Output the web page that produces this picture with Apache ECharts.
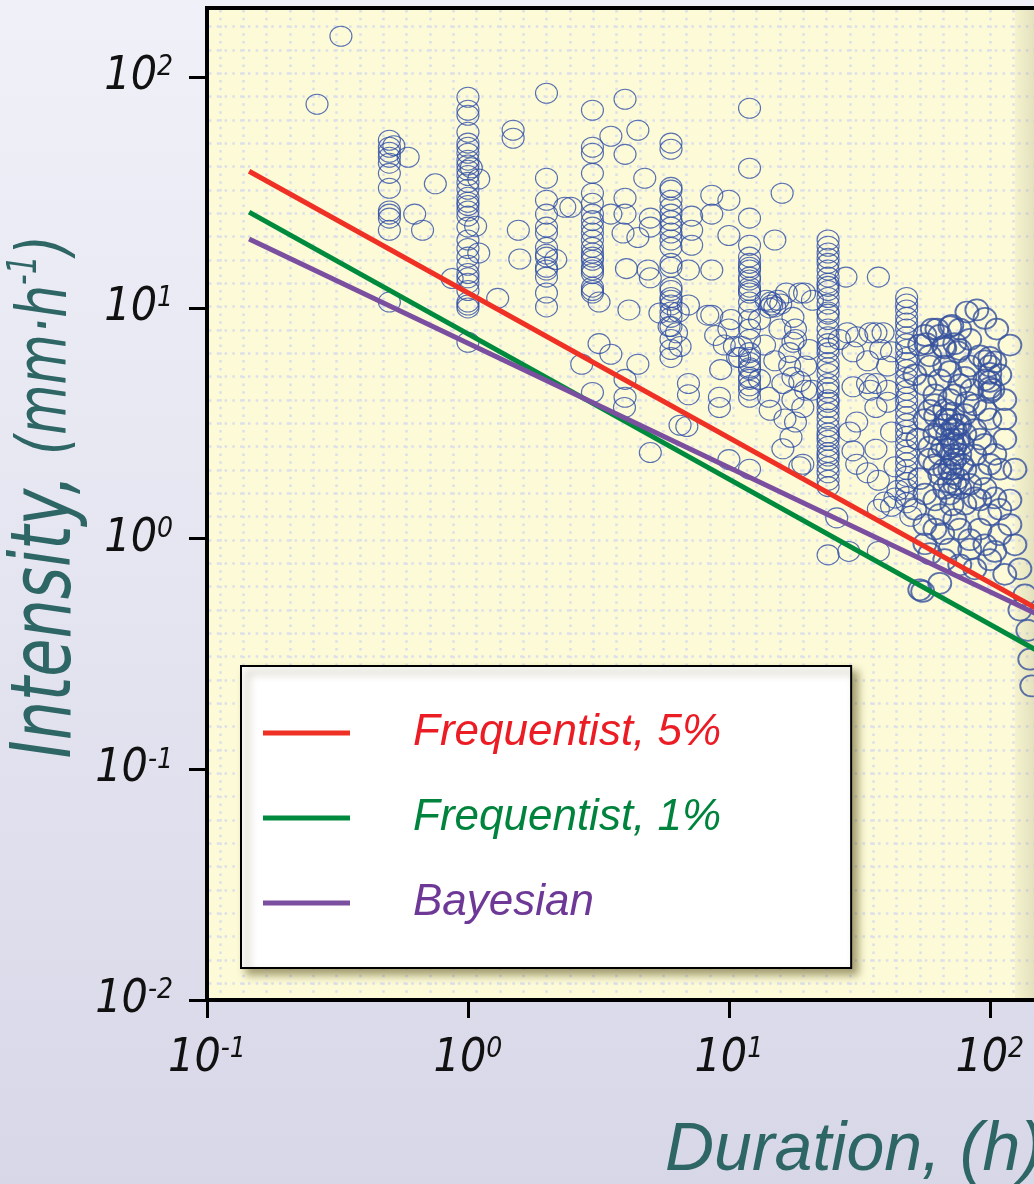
<!DOCTYPE html>
<html><head><meta charset="utf-8">
<script src="https://cdn.jsdelivr.net/npm/echarts@6.0.0/dist/echarts.min.js"></script>
<style>
html,body{margin:0;padding:0;}
#chart{width:1034px;height:1184px;background:linear-gradient(180deg,#f0f0f8 0%,#e5e5f1 50%,#d7d7e8 100%);}
</style></head>
<body><div id="chart"></div>
<script>
// ---- data ----
const xTicks = [0.1, 1, 10, 100];
const yTicks = [0.01, 0.1, 1, 10, 100];
const colDurations = [0.5, 1, 2, 3, 6, 12, 24, 48];
const col05 = [53.3, 49.7, 47.3, 45.0, 42.4, 38.3, 33.0, 26.3, 25.5, 24.5, 21.7, 10.6];
const col1 = [81.9, 71.9, 68.4, 57.7, 51.8, 49.7, 46.8, 43.7, 41.6, 39.5, 37.5, 35.0, 32.7, 30.2, 28.7, 27.8, 26.3, 25.0, 22.4, 19.7, 18.1, 16.6, 15.3, 14.1, 13.5, 12.8, 11.9, 10.6, 10.3, 10.0, 7.1];
const col2 = [85.2, 36.5, 29.3, 25.5, 22.4, 21.1, 18.3, 17.1, 16.6, 15.0, 14.6, 13.6, 11.6, 10.1];
const col3 = [71.9, 49.7, 46.8, 38.3, 31.4, 28.4, 25.5, 23.9, 22.4, 21.1, 19.7, 18.3, 17.3, 16.6, 16.1, 15.0, 14.6, 14.1, 12.3, 11.9, 11.6, 4.3];
const col6 = [51.8, 48.7, 33.3, 32.4, 29.3, 27.3, 25.5, 23.9, 22.4, 21.1, 19.7, 18.3, 15.6, 15.0, 12.3, 11.9, 11.1, 10.8, 10.3, 9.6, 9.1, 8.3, 7.3, 6.6, 6.1];
const col12 = [18.7, 16.6, 15.6, 15.0, 14.6, 13.6, 13.2, 12.3, 11.9, 11.6, 10.6, 9.8, 8.9, 8.1, 7.3, 6.4, 6.1, 5.8, 5.5, 5.4, 5.0, 4.9, 4.6, 4.4, 4.1];
const col24 = [19.7, 18.5, 17.3, 16.4, 15.6, 14.6, 13.6, 12.8, 12.4, 11.9, 11.1, 10.4, 9.6, 9.4, 8.9, 8.1, 7.5, 7.0, 6.7, 6.4, 5.8, 5.5, 5.2, 4.7, 4.5, 4.3, 4.0, 3.9, 3.7, 3.5, 3.3, 3.06, 2.87, 2.77, 2.67, 2.51, 2.36, 2.28, 2.19, 2.05, 1.93, 1.79, 1.68, 0.85];
const col48 = [11.1, 10.4, 9.8, 9.1, 8.6, 8.1, 7.5, 7.0, 6.6, 6.1, 5.8, 5.4, 5.0, 4.7, 4.4, 4.1, 3.86, 3.6, 3.38, 3.15, 2.95, 2.77, 2.6, 2.42, 2.27, 2.13, 1.99, 1.86, 1.75, 1.64, 1.52, 1.43];
const scattered = [
  [0.264, 76.3], [0.326, 150.5],
  [0.59, 45.0], [0.625, 25.5], [0.67, 21.7], [0.75, 34.5], [0.52, 50.5],
  [1.10, 36.2], [1.07, 22.6], [1.10, 17.3], [0.87, 13.4], [1.03, 40.5],
  [1.30, 11.0], [1.49, 58.9], [1.49, 54.4], [1.56, 21.7], [1.58, 16.3],
  [2.17, 16.2], [2.35, 27.3], [2.48, 27.3],
  [3.18, 10.6], [3.18, 7.0], [3.53, 55.5], [3.53, 25.5], [3.53, 6.3], [2.73, 5.7],
  [4.0, 80.3], [4.0, 46.3], [4.0, 29.9], [4.0, 25.5], [3.93, 21.1], [4.05, 14.8], [4.14, 9.8], [4.0, 4.9], [4.0, 4.1], [3.98, 3.7],
  [4.48, 58.9], [4.48, 20.2], [4.48, 5.7], [4.76, 36.5], [4.9, 14.6], [5.0, 13.5], [5.0, 24.5], [5.0, 22.4], [5.0, 2.36], [5.44, 9.5],
  [6.3, 7.8], [6.5, 6.8], [6.4, 9.6], [5.9, 8.3], [7.0, 4.7], [7.0, 4.2], [7.2, 25.0], [7.2, 21.7], [7.2, 18.7], [7.0, 14.6], [7.0, 10.3],
  [8.3, 9.3], [8.6, 30.8], [8.6, 25.5], [8.6, 14.6], [8.6, 9.3], [9.2, 4.1], [9.2, 3.7], [6.5, 3.1], [6.9, 3.06], [10, 2.2], [12, 2.0],
  [10, 29.3], [10, 20.6], [12, 73.4], [12, 40.3], [12, 24.5], [15, 19.7], [16, 31.4],
  [10, 8.1], [10.5, 6.8], [10.8, 6.1], [10.2, 8.9], [11.2, 6.8], [11, 6.1], [14.2, 4.1], [16.1, 4.7], [17.6, 4.0], [17.6, 5.0], [17.1, 6.4], [18, 7.3],
  [16.1, 2.45], [18.7, 2.05], [19.2, 2.1], [17.3, 2.75], [18, 3.2], [19.2, 3.7], [19.7, 4.4],
  [13.9, 10.8], [14.5, 10.6], [14.6, 10.3], [15.0, 10.1], [14.3, 10.0], [15.4, 10.8], [16.6, 11.6], [15.8, 10.4],
  [18.7, 11.6], [20.9, 10.8], [17.6, 9.1], [18, 8.1], [17.6, 7.1], [17.1, 5.6], [19.5, 11.6], [19.7, 5.6], [18.7, 4.8],
  [9.6, 6.9], [9.3, 5.4], [8.9, 7.6], [13.1, 8.9], [13.7, 6.9], [13.1, 4.9], [15, 5.9], [15.7, 8.1], [14.4, 3.6], [16.4, 3.3], [20.3, 6.6], [20.9, 4.4],
  [28.1, 13.6], [37.4, 13.6], [26.5, 7.3], [30.9, 7.5], [34.8, 7.8], [38.2, 6.6], [34, 5.9], [34, 4.7], [34.8, 4.4], [40.6, 4.4], [36.6, 3.7],
  [30.9, 3.2], [29, 2.9], [29.9, 2.4], [30.9, 2.1], [34, 1.93], [37.4, 1.79], [39.5, 1.44], [37.4, 1.34], [25.9, 1.23], [28.8, 0.88], [37.4, 0.88],
  [28.4, 7.8], [39, 7.8], [40.6, 5.6], [29.9, 4.55], [36.6, 4.7], [29.9, 6.45], [36.6, 7.8], [42, 6.45], [40.6, 3.9], [42, 2.9], [36.6, 2.44], [43.3, 2.05],
  [43.3, 1.5], [42, 1.38], [44.5, 1.62], [49.8, 1.25]
];
const blob = [
  [62.7, 8.1], [71.5, 8.4], [81.7, 9.6], [89.2, 9.8], [95.8, 9.0], [106.3, 8.1], [119.4, 6.9],
  [70.3, 8.3], [76.7, 8.1], [60.2, 8.1], [57, 7.0], [66.5, 6.8], [76.7, 6.6],
  [53.9, 6.9], [58.9, 6.2], [67.2, 6.7], [75.4, 6.45], [83.8, 7.3], [95.8, 5.9], [104.5, 5.84], [109.2, 5.13],
  [100, 6.1], [100, 5.6], [100, 5.2], [100, 4.8], [100, 4.5], [100, 4.3],
  [51.6, 5.13], [56.4, 4.64], [64.3, 4.88], [70.3, 5.29], [76.7, 4.64], [85.3, 4.42], [95.8, 4.88], [102.7, 4.42], [114.1, 4.0],
  [61.6, 3.81], [67.2, 3.62], [70.3, 3.28], [73.4, 2.97], [71.5, 2.70], [69.0, 2.44], [73.4, 2.21], [70.3, 2.0], [75.4, 1.82], [67.2, 1.65],
  [64.3, 2.97], [78.1, 2.56], [58.9, 2.21], [56.4, 3.28], [53.0, 2.70], [80.2, 3.45], [87.6, 2.97], [95.8, 2.56], [104.5, 2.32], [114.1, 2.70],
  [124.8, 2.0], [53.9, 1.82], [61.6, 1.47], [70.3, 4.0], [73.4, 2.5], [71.5, 2.1], [69, 2.83], [75.4, 3.12], [67.2, 2.0], [76.7, 1.65],
  [51.6, 1.34], [56.4, 1.15], [64.3, 1.27], [73.4, 1.21], [80.2, 1.41], [91.6, 1.47], [100, 1.27], [109.2, 1.34], [119.4, 1.47],
  [83.8, 0.99], [95.8, 0.94], [109.2, 1.04], [124.8, 0.94], [58.9, 0.86], [67.2, 0.81], [76.7, 0.77], [87.6, 0.74], [100, 0.81],
  [114.1, 0.70], [130.4, 0.74], [53.9, 0.60], [64.3, 0.64], [136.3, 0.57], [55.3, 0.59],
  [130.4, 0.49], [139.9, 0.40], [142.3, 0.30], [144.8, 0.23],
  [56.4, 7.6], [64.3, 7.6], [73.4, 7.0], [83.8, 5.6], [91.6, 6.2], [58.9, 5.6], [67.2, 5.6], [80.2, 5.0], [61.6, 4.2], [73.4, 4.2],
  [87.6, 3.8], [95.8, 3.6], [100, 3.3], [58.9, 3.6], [67.2, 3.12], [76.7, 3.12], [61.6, 2.84], [80.2, 2.84], [91.6, 2.7], [64.3, 2.32],
  [76.7, 2.32], [87.6, 2.3], [100, 2.1], [61.6, 2.09], [80.2, 2.0], [91.6, 1.9], [64.3, 1.9], [73.4, 1.72], [83.8, 1.72], [95.8, 1.65],
  [56.4, 1.56], [70.3, 1.56], [87.6, 1.5], [104.5, 1.5], [61.6, 1.1], [76.7, 1.1], [91.6, 1.1], [70.3, 0.9], [83.8, 0.9], [104.5, 0.88],
  [56.4, 0.95], [119.4, 1.15], [114.1, 3.3], [109.2, 2.0], [58.9, 2.5], [71.5, 1.4], [66, 1.05],
  [72, 3.5], [72, 3.0], [72, 2.6], [72, 2.3], [72, 1.9], [68, 3.3], [76, 2.7], [66, 2.5], [78, 2.1], [70, 1.75], [82, 3.9], [62, 3.4]
];
const fitDuration = [0.145, 158];
const freq5 = [39.1, 0.484];
const freq1 = [26.0, 0.319];
const bayes = [19.9, 0.46];
const seriesNames = ['Frequentist, 5%', 'Frequentist, 1%', 'Bayesian'];

// ---- build ----
const colValues = [col05, col1, col2, col3, col6, col12, col24, col48];
const points = [];
colDurations.forEach((d, i) => colValues[i].forEach(v => points.push([d, v])));
scattered.forEach(p => points.push(p));
const linePts = arr => fitDuration.map((d, i) => [d, arr[i]]);

const NARROW = '"Liberation Sans Narrow", "Arial Narrow", "DejaVu Sans Condensed", sans-serif';
const SANS = '"Liberation Sans", Arial, sans-serif';
const TEAL = '#2e6565';
function powLabel(v) {
  const l = Math.log10(v), e = Math.round(l);
  if (Math.abs(l - e) > 1e-6) return '';
  return '{b|10}{s|' + (e < 0 ? '-' + (-e) : e) + '}';
}
const labRich = {
  b: {fontSize: 46, fontFamily: NARROW, fontStyle: 'italic', color: '#111', lineHeight: 46},
  s: {fontSize: 28, fontFamily: NARROW, fontStyle: 'italic', color: '#111', lineHeight: 28, verticalAlign: 'top'}
};
const dotted = {color: '#dcdfe9', width: 2.5, type: [2.5, 5.28]};
const circleStyle = {color: 'rgba(0,0,0,0)', borderColor: '#2f4ea6', borderWidth: 1.1};

const chart = echarts.init(document.getElementById('chart'), null, {renderer: 'canvas'});
chart.setOption({
  animation: false,
  backgroundColor: 'transparent',
  grid: [
    {left: 207, top: 8, width: 835, height: 992, show: true, backgroundColor: '#fdfbd7', borderColor: '#000', borderWidth: 4, outerBoundsMode: 'none', containLabel: false},
    {left: 196.67, top: 10, width: 863.33, height: 988, outerBoundsMode: 'none', containLabel: false},
    {left: 209, top: 3.33, width: 833, height: 1003.33, outerBoundsMode: 'none', containLabel: false}
  ],
  xAxis: [
    {type: 'log', logBase: 10, gridIndex: 0, min: 0.1, max: 158.49,
     axisLine: {show: false}, splitLine: {show: false},
     axisTick: {show: true, length: 18, lineStyle: {color: '#000', width: 3}, customValues: xTicks},
     axisLabel: {formatter: powLabel, margin: 36, customValues: xTicks, rich: labRich}},
    {type: 'value', gridIndex: 1, min: 0, max: 37, interval: 1,
     axisLine: {show: false}, axisTick: {show: false}, axisLabel: {show: false},
     splitLine: {show: true, showMinLine: false, showMaxLine: false, lineStyle: dotted}},
    {type: 'value', gridIndex: 2, show: false}
  ],
  yAxis: [
    {type: 'log', logBase: 10, gridIndex: 0, min: 0.01, max: 199.53,
     axisLine: {show: false}, splitLine: {show: false},
     axisTick: {show: true, length: 18, lineStyle: {color: '#000', width: 3}, customValues: yTicks},
     axisLabel: {formatter: powLabel, margin: 34, customValues: yTicks, rich: labRich}},
    {type: 'value', gridIndex: 1, show: false},
    {type: 'value', gridIndex: 2, min: 0, max: 43, interval: 1, inverse: true,
     axisLine: {show: false}, axisTick: {show: false}, axisLabel: {show: false},
     splitLine: {show: true, showMinLine: false, showMaxLine: false, lineStyle: dotted}}
  ],
  legend: {
    data: [
      {name: seriesNames[0], textStyle: {color: '#ec1c24'}},
      {name: seriesNames[1], textStyle: {color: '#00843d'}},
      {name: seriesNames[2], textStyle: {color: '#6e3996'}}
    ],
    orient: 'vertical', left: 241, top: 666,
    icon: 'rect', itemWidth: 87, itemHeight: 5, itemGap: 41,
    padding: [45, 130, 43, 22],
    backgroundColor: '#fff', borderColor: '#000', borderWidth: 2,
    shadowColor: 'rgba(90,80,30,0.55)', shadowBlur: 8, shadowOffsetX: 6, shadowOffsetY: 6,
    selectedMode: false,
    textStyle: {fontFamily: SANS, fontStyle: 'italic', fontSize: 44, lineHeight: 44, padding: [0, 0, 0, 58]}
  },
  graphic: [
    {type: 'rect', z: 1, silent: true, shape: {x: 1015, y: 10, width: 19, height: 988},
     style: {fill: {type: 'linear', x: 0, y: 0, x2: 1, y2: 0, colorStops: [
       {offset: 0, color: 'rgba(170,160,120,0.10)'}, {offset: 1, color: 'rgba(150,145,120,0.25)'}]}}},
    {type: 'text', x: 48, y: 497, rotation: Math.PI / 2, scaleX: 0.82, scaleY: 1, z: 10,
     style: {text: '{a|Intensity, }{b|(mm·h}{c|-1}{b|)}', align: 'center', verticalAlign: 'middle', fill: TEAL,
       rich: {
         a: {fontSize: 84, fontFamily: NARROW, fontStyle: 'italic', fill: TEAL, lineHeight: 84},
         b: {fontSize: 70, fontFamily: NARROW, fontStyle: 'italic', fill: TEAL, lineHeight: 84},
         c: {fontSize: 40, fontFamily: NARROW, fontStyle: 'italic', fill: TEAL, lineHeight: 60, verticalAlign: 'top'}
       }}},
    {type: 'text', left: 665, top: 1117, z: 10,
     style: {text: 'Duration, (h)', fill: TEAL, font: 'italic 68px "Liberation Sans", Arial, sans-serif'}}
  ],
  series: [
    {type: 'scatter', name: 'Data', xAxisIndex: 0, yAxisIndex: 0, data: points, z: 2,
     symbol: 'circle', symbolSize: [22, 20], itemStyle: circleStyle, emphasis: {disabled: true}},
    {type: 'scatter', name: 'Data (long durations)', xAxisIndex: 0, yAxisIndex: 0, data: blob, z: 2,
     symbol: 'circle', symbolSize: [23, 21],
     itemStyle: {color: 'rgba(0,0,0,0)', borderColor: '#34509e', borderWidth: 1.8}, emphasis: {disabled: true}},
    {type: 'line', name: seriesNames[0], data: linePts(freq5), showSymbol: false, z: 3,
     lineStyle: {color: '#ee3124', width: 5}, itemStyle: {color: '#ee3124'}},
    {type: 'line', name: seriesNames[1], data: linePts(freq1), showSymbol: false, z: 3,
     lineStyle: {color: '#008a3e', width: 5}, itemStyle: {color: '#008a3e'}},
    {type: 'line', name: seriesNames[2], data: linePts(bayes), showSymbol: false, z: 3,
     lineStyle: {color: '#7b4fa0', width: 5}, itemStyle: {color: '#7b4fa0'}}
  ]
});
</script>
</body></html>
